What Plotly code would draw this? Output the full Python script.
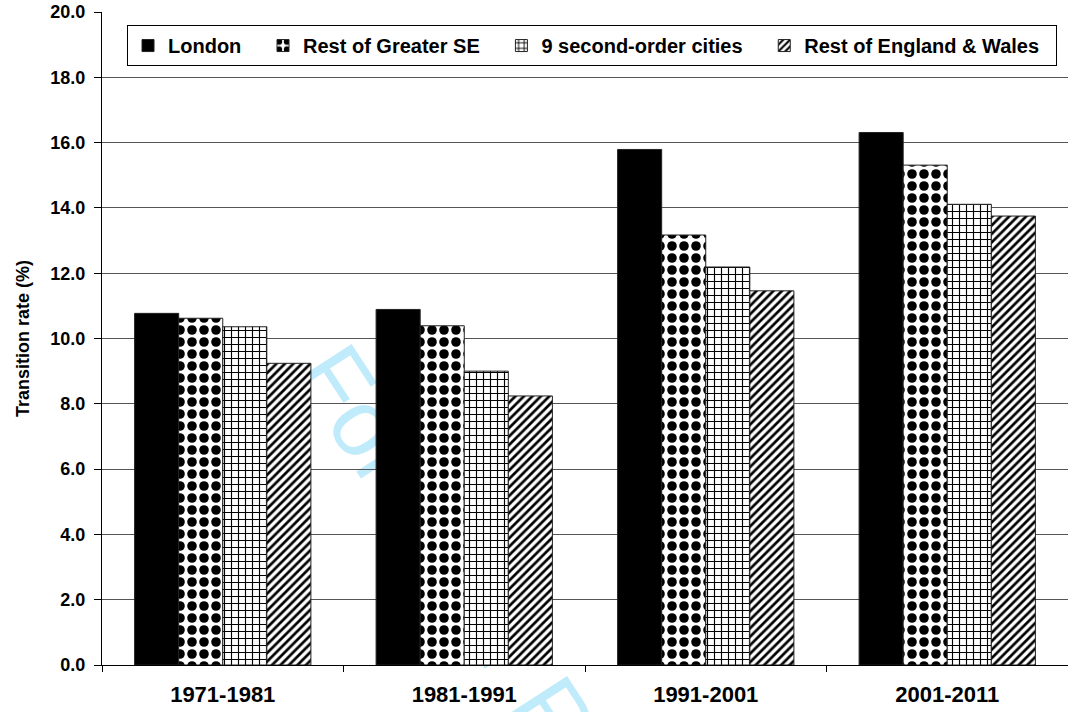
import plotly.graph_objects as go

periods = ["1971-1981", "1981-1991", "1991-2001", "2001-2011"]
series_names = ["London", "Rest of Greater SE", "9 second-order cities", "Rest of England & Wales"]
london = [10.77, 10.89, 15.79, 16.31]
rest_se = [10.62, 10.39, 13.17, 15.31]
cities = [10.36, 9.00, 12.19, 14.11]
rest_ew = [9.24, 8.24, 11.46, 13.75]
y_ticks = [0, 2, 4, 6, 8, 10, 12, 14, 16, 18, 20]

FONT = "Liberation Sans, Arial, sans-serif"
NB = "\u00a0"

styles = [
    dict(color="black", pattern=None),
    dict(color="white", pattern=dict(shape=".", size=12, solidity=0.5, fgcolor="black", bgcolor="white", fillmode="replace")),
    dict(color="white", pattern=dict(shape="+", size=7, solidity=0.3, fgcolor="black", bgcolor="white", fillmode="replace")),
    dict(color="white", pattern=dict(shape="/", size=6, solidity=0.45, fgcolor="black", bgcolor="white", fillmode="replace")),
]
pads = [3, 3, 3, 2]

fig = go.Figure()
for name, vals, st, p in zip(series_names, [london, rest_se, cities, rest_ew], styles, pads):
    marker = dict(color=st["color"], line=dict(color="#222", width=1))
    if st["pattern"]:
        marker["pattern"] = st["pattern"]
    fig.add_trace(go.Bar(x=periods, y=vals, name=name + NB * p, marker=marker))

# watermark
fig.add_shape(type="rect", xref="paper", yref="paper", x0=0.40, x1=0.466, y0=0.0, y1=0.056,
              line=dict(width=0), fillcolor="rgba(0,0,0,0)", layer="below",
              label=dict(text="For Peer Review", textangle=57, textposition="middle center",
                         font=dict(family=FONT, size=95, color="rgba(0,176,240,0.25)")))

fig.update_layout(
    width=1068, height=712,
    margin=dict(l=102, r=0, t=12, b=47),
    paper_bgcolor="white", plot_bgcolor="white",
    barmode="group", bargap=0.27, bargroupgap=0,
    font=dict(family=FONT, color="black"),
    showlegend=True,
    legend=dict(orientation="h", x=0.0259, y=0.980, xanchor="left", yanchor="top",
                bordercolor="black", borderwidth=1, bgcolor="white",
                font=dict(family=FONT, size=20, weight="bold", color="black")),
    xaxis=dict(showline=True, linecolor="black", linewidth=1, ticks="outside", tickson="boundaries",
               ticklen=6, tickcolor="black", ticklabelstandoff=10, tickfont=dict(size=22, weight="bold"),
               showgrid=False),
    yaxis=dict(range=[0, 20], tickvals=y_ticks, tickformat=".1f", showline=True, linecolor="black",
               linewidth=1, ticks="outside", ticklen=7, tickcolor="black", ticklabelstandoff=5,
               tickfont=dict(size=18, weight="bold"), showgrid=True, gridcolor="#555", gridwidth=1,
               zeroline=False,
               title=dict(text="Transition rate (%)", font=dict(size=18, weight="bold"), standoff=16)),
)

fig.write_html("out.html")
